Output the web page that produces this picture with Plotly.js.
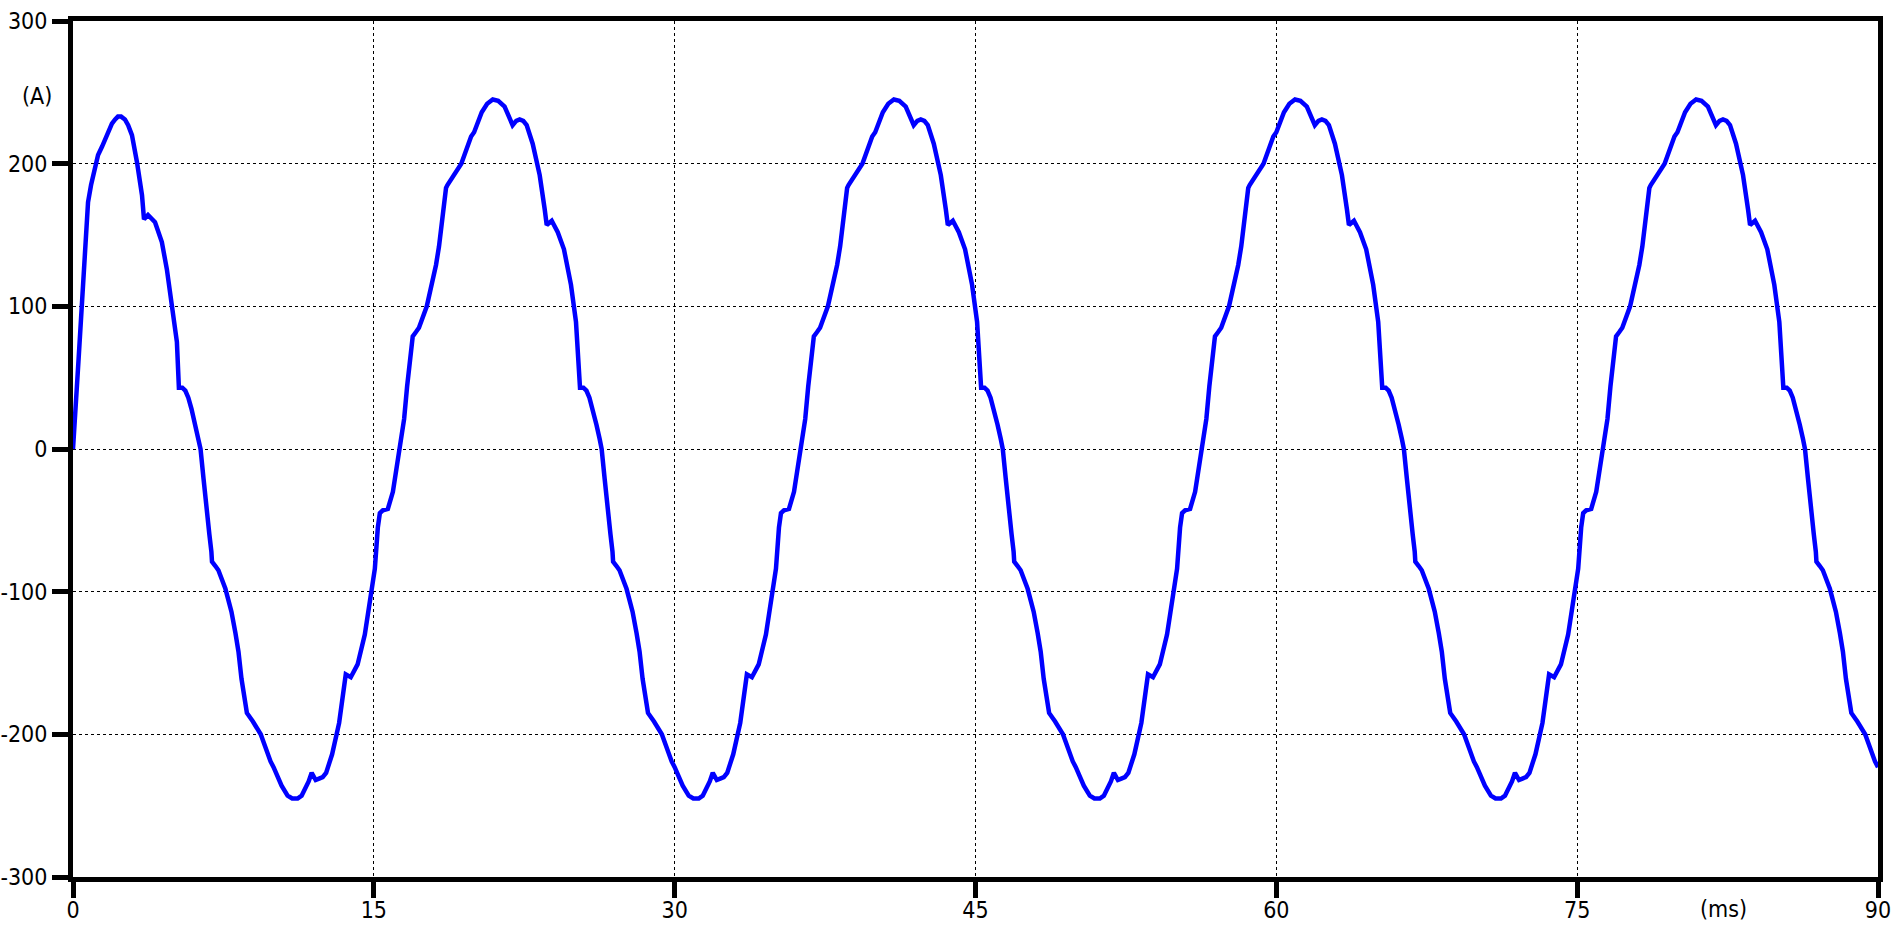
<!DOCTYPE html>
<html>
<head>
<meta charset="utf-8">
<script src="https://cdn.plot.ly/plotly-3.0.1.min.js"></script>
<style>html,body{margin:0;padding:0;background:#fff;}#chart{width:1899px;height:929px;}</style>
</head>
<body>
<div id="chart"></div>
<script>
// Time (ms) and current (A), cycle by cycle
const cycle0Time = [0, 0.1, 0.2, 0.27, 0.45, 0.6, 0.75, 0.9, 1.0, 1.15, 1.25, 1.45, 1.69, 1.94, 2.1, 2.24, 2.4, 2.59, 2.75, 2.94, 3.19, 3.44, 3.54, 3.74, 4.09, 4.43, 4.68, 4.93, 5.18, 5.28,
  5.45, 5.6, 5.75, 5.91, 6.1, 6.26, 6.36, 6.51, 6.66, 6.8, 6.9, 6.93, 7.1, 7.25, 7.6, 7.9, 8.1, 8.25, 8.4, 8.6, 8.67, 8.97, 9.36, 9.85, 10.0, 10.4, 10.7,
  10.93, 11.2, 11.4, 11.6, 11.75, 11.9, 12.1, 12.27, 12.45, 12.62, 12.92, 13.27, 13.52, 13.6, 13.85, 14.19, 14.55, 14.8, 15.05, 15.2,
  15.3, 15.45, 15.7, 15.95, 16.1, 16.25, 16.36, 16.51, 16.66, 16.8, 16.9, 16.94, 17.1, 17.25, 17.64, 17.94, 18.1, 18.25, 18.4, 18.6, 18.67, 18.97, 19.36, 19.85];
const cycle0Current = [0, 19, 40, 61, 103, 145, 173, 185, 192, 201, 206, 212, 220, 228, 231, 233, 233, 231, 227, 220, 201, 178, 161, 164, 159, 145, 126, 103, 75, 43,
  43, 41, 36, 28, 17, 7, 0, -21, -44, -60, -72, -79, -82, -85, -98, -114, -129, -142, -161, -183, -185, -191, -200, -219, -223, -236, -243,
  -245, -245, -243, -238, -233, -227, -232, -231, -230, -227, -214, -192, -166, -158, -160, -151, -130, -109, -84, -55,
  -45, -43, -42, -30, -17, -4, 5, 21, 44, 60, 72, 79, 82, 85, 100, 117, 129, 142, 161, 183, 185, 191, 200, 219];

const cycle1Time = [20, 20.38, 20.65, 20.93, 21.2, 21.52, 21.75, 21.92, 22.1, 22.27, 22.45, 22.62, 22.92, 23.27, 23.52, 23.62, 23.87, 24.17, 24.48, 24.83,
  25.08, 25.2, 25.28, 25.45, 25.6, 25.75, 25.91, 26.1, 26.26, 26.36, 26.51, 26.66, 26.8, 26.9, 26.93, 27.1, 27.25, 27.6, 27.9, 28.1,
  28.25, 28.4, 28.6, 28.67, 28.97, 29.36, 29.85, 30.0, 30.4, 30.7, 30.93, 31.2, 31.4, 31.6, 31.75, 31.9, 32.1, 32.27, 32.45, 32.62,
  32.92, 33.27, 33.52, 33.6, 33.85, 34.19, 34.55, 34.8, 35.05, 35.2, 35.3, 35.45, 35.7, 35.95, 36.1, 36.25, 36.36, 36.51, 36.66, 36.8,
  36.9, 36.94, 37.1, 37.25, 37.64, 37.94, 38.1, 38.25, 38.4, 38.6, 38.67, 38.97, 39.36, 39.85];
const cycle1Current = [222, 236, 242, 245, 244, 240, 233, 227, 230, 231, 230, 227, 214, 192, 168, 157, 160, 152, 140, 115,
  89, 65, 43, 43, 41, 36, 28, 17, 7, 0, -21, -44, -60, -72, -79, -82, -85, -98, -114, -129,
  -142, -161, -183, -185, -191, -200, -219, -223, -236, -243, -245, -245, -243, -238, -233, -227, -232, -231, -230, -227,
  -214, -192, -166, -158, -160, -151, -130, -109, -84, -55, -45, -43, -42, -30, -17, -4, 5, 21, 44, 60,
  72, 79, 82, 85, 100, 117, 129, 142, 161, 183, 185, 191, 200, 219];

const cycle2Time = [40, 40.38, 40.65, 40.93, 41.2, 41.52, 41.75, 41.92, 42.1, 42.27, 42.45, 42.62, 42.92, 43.27, 43.52, 43.62, 43.87, 44.17, 44.48, 44.83,
  45.08, 45.2, 45.28, 45.45, 45.6, 45.75, 45.91, 46.1, 46.26, 46.36, 46.51, 46.66, 46.8, 46.9, 46.93, 47.1, 47.25, 47.6, 47.9, 48.1,
  48.25, 48.4, 48.6, 48.67, 48.97, 49.36, 49.85, 50.0, 50.4, 50.7, 50.93, 51.2, 51.4, 51.6, 51.75, 51.9, 52.1, 52.27, 52.45, 52.62,
  52.92, 53.27, 53.52, 53.6, 53.85, 54.19, 54.55, 54.8, 55.05, 55.2, 55.3, 55.45, 55.7, 55.95, 56.1, 56.25, 56.36, 56.51, 56.66, 56.8,
  56.9, 56.94, 57.1, 57.25, 57.64, 57.94, 58.1, 58.25, 58.4, 58.6, 58.67, 58.97, 59.36, 59.85];
const cycle2Current = [222, 236, 242, 245, 244, 240, 233, 227, 230, 231, 230, 227, 214, 192, 168, 157, 160, 152, 140, 115,
  89, 65, 43, 43, 41, 36, 28, 17, 7, 0, -21, -44, -60, -72, -79, -82, -85, -98, -114, -129,
  -142, -161, -183, -185, -191, -200, -219, -223, -236, -243, -245, -245, -243, -238, -233, -227, -232, -231, -230, -227,
  -214, -192, -166, -158, -160, -151, -130, -109, -84, -55, -45, -43, -42, -30, -17, -4, 5, 21, 44, 60,
  72, 79, 82, 85, 100, 117, 129, 142, 161, 183, 185, 191, 200, 219];

const cycle3Time = [60, 60.38, 60.65, 60.93, 61.2, 61.52, 61.75, 61.92, 62.1, 62.27, 62.45, 62.62, 62.92, 63.27, 63.52, 63.62, 63.87, 64.17, 64.48, 64.83,
  65.08, 65.2, 65.28, 65.45, 65.6, 65.75, 65.91, 66.1, 66.26, 66.36, 66.51, 66.66, 66.8, 66.9, 66.93, 67.1, 67.25, 67.6, 67.9, 68.1,
  68.25, 68.4, 68.6, 68.67, 68.97, 69.36, 69.85, 70.0, 70.4, 70.7, 70.93, 71.2, 71.4, 71.6, 71.75, 71.9, 72.1, 72.27, 72.45, 72.62,
  72.92, 73.27, 73.52, 73.6, 73.85, 74.19, 74.55, 74.8, 75.05, 75.2, 75.3, 75.45, 75.7, 75.95, 76.1, 76.25, 76.36, 76.51, 76.66, 76.8,
  76.9, 76.94, 77.1, 77.25, 77.64, 77.94, 78.1, 78.25, 78.4, 78.6, 78.67, 78.97, 79.36, 79.85];
const cycle3Current = [222, 236, 242, 245, 244, 240, 233, 227, 230, 231, 230, 227, 214, 192, 168, 157, 160, 152, 140, 115,
  89, 65, 43, 43, 41, 36, 28, 17, 7, 0, -21, -44, -60, -72, -79, -82, -85, -98, -114, -129,
  -142, -161, -183, -185, -191, -200, -219, -223, -236, -243, -245, -245, -243, -238, -233, -227, -232, -231, -230, -227,
  -214, -192, -166, -158, -160, -151, -130, -109, -84, -55, -45, -43, -42, -30, -17, -4, 5, 21, 44, 60,
  72, 79, 82, 85, 100, 117, 129, 142, 161, 183, 185, 191, 200, 219];

const cycle4Time = [80, 80.38, 80.65, 80.93, 81.2, 81.52, 81.75, 81.92, 82.1, 82.27, 82.45, 82.62, 82.92, 83.27, 83.52, 83.62, 83.87, 84.17, 84.48, 84.83,
  85.08, 85.2, 85.28, 85.45, 85.6, 85.75, 85.91, 86.1, 86.26, 86.36, 86.51, 86.66, 86.8, 86.9, 86.93, 87.1, 87.25, 87.6, 87.9, 88.1,
  88.25, 88.4, 88.6, 88.67, 88.97, 89.36, 89.85, 90.0];
const cycle4Current = [222, 236, 242, 245, 244, 240, 233, 227, 230, 231, 230, 227, 214, 192, 168, 157, 160, 152, 140, 115,
  89, 65, 43, 43, 41, 36, 28, 17, 7, 0, -21, -44, -60, -72, -79, -82, -85, -98, -114, -129,
  -142, -161, -183, -185, -191, -200, -219, -223];

const xTickVals = [0, 15, 30, 45, 60, 75, 90];
const xTickText = ['0', '15', '30', '45', '60', '75', '90'];
const yTickVals = [-300, -200, -100, 0, 100, 200, 300];
const yTickText = ['-300', '-200', '-100', '0', '100', '200', '300'];
const yUnit = '(A)';
const xUnit = '(ms)';

const timeMs = [].concat(cycle0Time, cycle1Time, cycle2Time, cycle3Time, cycle4Time);
const currentA = [].concat(cycle0Current, cycle1Current, cycle2Current, cycle3Current, cycle4Current);

const FONT = '"DejaVu Sans Condensed", "DejaVu Sans", sans-serif';

const trace = {
  x: timeMs, y: currentA, type: 'scatter', mode: 'lines',
  line: {color: '#0000FF', width: 4.5}, hoverinfo: 'skip', showlegend: false
};

const axisCommon = {
  showline: true, linecolor: '#000', linewidth: 5, mirror: true,
  ticks: 'outside', tickcolor: '#000', tickwidth: 5,
  showgrid: true, gridcolor: '#000', gridwidth: 1, griddash: 'dot',
  zeroline: false, tickfont: {family: FONT, size: 23, color: '#000'}, fixedrange: true
};

const layout = {
  width: 1899, height: 929,
  margin: {l: 73, r: 21, t: 21, b: 52, pad: 0},
  paper_bgcolor: '#fff', plot_bgcolor: '#fff',
  font: {family: FONT, size: 23, color: '#000'},
  xaxis: Object.assign({}, axisCommon, {range: [0, 90], tickmode: 'array', tickvals: xTickVals, ticktext: xTickText, ticklen: 16, ticklabelstandoff: -8}),
  yaxis: Object.assign({}, axisCommon, {range: [-300, 300], tickmode: 'array', tickvals: yTickVals, ticktext: yTickText, ticklen: 16}),
  annotations: [
    {text: yUnit, xref: 'paper', yref: 'paper', x: -0.02, y: 0.912, xanchor: 'center', yanchor: 'middle', showarrow: false, font: {family: FONT, size: 23, color: '#000'}},
    {text: xUnit, xref: 'x', yref: 'paper', x: 82.3, y: -0.037, xanchor: 'center', yanchor: 'middle', showarrow: false, font: {family: FONT, size: 23, color: '#000'}}
  ]
};

Plotly.newPlot('chart', [trace], layout, {displayModeBar: false, staticPlot: true});
</script>
</body>
</html>
